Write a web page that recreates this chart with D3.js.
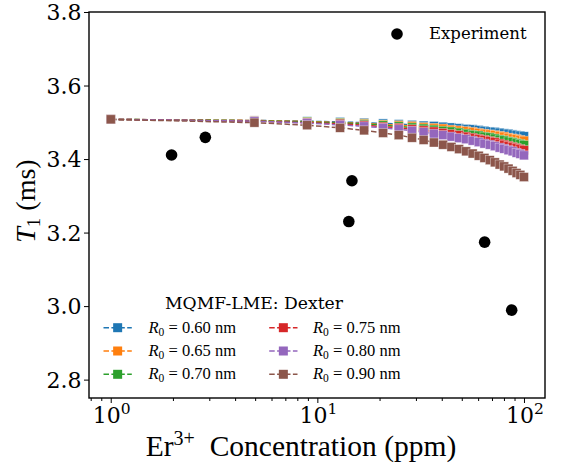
<!DOCTYPE html>
<html>
<head>
<meta charset="utf-8">
<script src="https://cdn.jsdelivr.net/npm/d3@7"></script>
<style>
  body { margin: 0; background: #fff; }
  text { fill: #000; }
</style>
</head>
<body>
<div id="chart"></div>
<script>
// Set dimensions and margins
const width = 561;
const height = 466;
const margin = { top: 12, right: 16, bottom: 68, left: 89 };

// Concentration (ppm) of the model points
const conc = [1, 4.96, 8.92, 12.88, 16.84, 20.8, 24.76, 28.72, 32.68, 36.64, 40.6, 44.56, 48.52,
    52.48, 56.44, 60.4, 64.36, 68.32, 72.28, 76.24, 80.2, 84.16, 88.12, 92.08, 96.04, 100];

// T1 (ms) for each R0
const r060 = [3.508, 3.505, 3.503, 3.501, 3.499, 3.497, 3.495, 3.493, 3.491, 3.490, 3.488, 3.486, 3.484,
    3.482, 3.481, 3.479, 3.477, 3.475, 3.474, 3.472, 3.470, 3.469, 3.467, 3.465, 3.464, 3.462];
const r065 = [3.508, 3.505, 3.502, 3.499, 3.497, 3.494, 3.492, 3.490, 3.487, 3.485, 3.483, 3.480, 3.478,
    3.476, 3.474, 3.471, 3.469, 3.467, 3.465, 3.463, 3.461, 3.458, 3.456, 3.454, 3.452, 3.450];
const r070 = [3.508, 3.504, 3.501, 3.498, 3.495, 3.492, 3.489, 3.486, 3.483, 3.480, 3.477, 3.475, 3.472,
    3.469, 3.466, 3.464, 3.461, 3.459, 3.456, 3.453, 3.451, 3.448, 3.446, 3.443, 3.441, 3.438];
const r075 = [3.508, 3.503, 3.499, 3.496, 3.492, 3.488, 3.485, 3.481, 3.478, 3.475, 3.471, 3.468, 3.465,
    3.461, 3.458, 3.455, 3.452, 3.449, 3.446, 3.442, 3.439, 3.436, 3.433, 3.430, 3.427, 3.424];
const r080 = [3.508, 3.503, 3.498, 3.493, 3.489, 3.485, 3.481, 3.477, 3.473, 3.469, 3.465, 3.461, 3.457,
    3.454, 3.450, 3.446, 3.442, 3.439, 3.435, 3.431, 3.428, 3.424, 3.421, 3.417, 3.414, 3.410];
const r090 = [3.508, 3.499, 3.492, 3.485, 3.478, 3.471, 3.465, 3.458, 3.452, 3.445, 3.439, 3.433, 3.427,
    3.421, 3.415, 3.409, 3.403, 3.397, 3.391, 3.385, 3.380, 3.374, 3.368, 3.362, 3.357, 3.351];

const seriesLabels = ["0.60", "0.65", "0.70", "0.75", "0.80", "0.90"];
const seriesColors = ["#1f77b4", "#ff7f0e", "#2ca02c", "#d62728", "#9467bd", "#8c564b"];
const seriesValues = [r060, r065, r070, r075, r080, r090];

// Experiment points
const expConc = [1.97, 2.87, 14.2, 14.7, 64.5, 87.2];
const expT1 = [3.411, 3.459, 3.230, 3.341, 3.174, 2.989];

const yTicks = [2.8, 3.0, 3.2, 3.4, 3.6, 3.8];
const xTicks = [1, 10, 100];
const xTickExp = ["0", "1", "2"];

// Append SVG
const svg = d3.select("#chart")
    .append("svg")
    .attr("width", width)
    .attr("height", height);

// Scales
const xScale = d3.scaleLog()
    .domain([0.785, 126.4])
    .range([margin.left, width - margin.right]);

const yScale = d3.scaleLinear()
    .domain([2.75, 3.8])
    .range([height - margin.bottom, margin.top]);

const serif = "'DejaVu Serif', serif";
const mathFont = "'Liberation Serif', serif";
const ms = 9; // marker size

// Series: dashed line + square markers
const line = d3.line()
    .x((d) => xScale(d[0]))
    .y((d) => yScale(d[1]));

seriesValues.forEach((vals, i) => {
    const pts = conc.map((c, j) => [c, vals[j]]);
    const g = svg.append("g");
    g.append("path")
        .datum(pts)
        .attr("d", line)
        .attr("fill", "none")
        .attr("stroke", seriesColors[i])
        .attr("stroke-width", 1.5)
        .attr("stroke-dasharray", "5.5,2.4");
    g.selectAll("rect")
        .data(pts)
        .enter()
        .append("rect")
        .attr("x", (d) => xScale(d[0]) - ms / 2)
        .attr("y", (d) => yScale(d[1]) - ms / 2)
        .attr("width", ms)
        .attr("height", ms)
        .attr("fill", seriesColors[i])
        .attr("stroke", "#fff")
        .attr("stroke-opacity", 0.6)
        .attr("stroke-width", 0.6);
});

// Experiment dots
svg.selectAll("circle.exp")
    .data(expConc.map((c, i) => [c, expT1[i]]))
    .enter()
    .append("circle")
    .attr("class", "exp")
    .attr("cx", (d) => xScale(d[0]))
    .attr("cy", (d) => yScale(d[1]))
    .attr("r", 5.8)
    .attr("fill", "#000");

// Axes
const xAxis = d3.axisBottom(xScale)
    .tickValues(xTicks)
    .tickSize(5)
    .tickFormat("");

const xMinor = [];
for (let dec = 0.1; dec <= 100; dec *= 10) {
    for (let m = 2; m <= 9; m++) {
        const v = +(dec * m).toPrecision(3);
        if (v > xScale.domain()[0] && v < xScale.domain()[1]) xMinor.push(v);
    }
}

const xAxisMinor = d3.axisBottom(xScale)
    .tickValues(xMinor)
    .tickSize(3)
    .tickFormat("");

const yAxis = d3.axisLeft(yScale)
    .tickValues(yTicks)
    .tickSize(5)
    .tickFormat("");

const gx = svg.append("g")
    .attr("transform", `translate(0, ${height - margin.bottom})`)
    .call(xAxis);
const gxm = svg.append("g")
    .attr("transform", `translate(0, ${height - margin.bottom})`)
    .call(xAxisMinor);
const gy = svg.append("g")
    .attr("transform", `translate(${margin.left}, 0)`)
    .call(yAxis);

[gx, gxm, gy].forEach((g) => {
    g.select(".domain").remove();
    g.selectAll("line").attr("stroke", "#000").attr("stroke-width", 1);
});

// Frame
svg.append("rect")
    .attr("x", margin.left)
    .attr("y", margin.top)
    .attr("width", width - margin.left - margin.right)
    .attr("height", height - margin.top - margin.bottom)
    .attr("fill", "none")
    .attr("stroke", "#000")
    .attr("stroke-width", 1.4);

// Tick labels
yTicks.forEach((t) => {
    svg.append("text")
        .attr("x", margin.left - 7.5)
        .attr("y", yScale(t) + 8)
        .attr("text-anchor", "end")
        .style("font-family", serif)
        .style("font-size", "22px")
        .text(t.toFixed(1));
});

xTicks.forEach((t, i) => {
    const tx = svg.append("text")
        .attr("x", xScale(t) + 1)
        .attr("y", height - margin.bottom + 25)
        .attr("text-anchor", "middle")
        .style("font-family", serif)
        .style("font-size", "22px");
    tx.append("tspan").text("10");
    tx.append("tspan")
        .attr("dy", -9)
        .style("font-size", "15.5px")
        .text(xTickExp[i]);
});

// Axis labels
const xl = svg.append("text")
    .attr("x", (margin.left + width - margin.right) / 2 - 16)
    .attr("y", 456)
    .attr("text-anchor", "middle")
    .style("font-family", mathFont)
    .style("font-size", "29.5px");
xl.append("tspan").text("Er");
xl.append("tspan").attr("dy", -11).style("font-size", "20px").text("3+");
xl.append("tspan").attr("dy", 11).text("\u00a0 Concentration (ppm)");

const yl = svg.append("text")
    .attr("transform", `translate(35, ${(margin.top + height - margin.bottom) / 2 - 4}) rotate(-90)`)
    .attr("text-anchor", "middle")
    .style("font-family", mathFont)
    .style("font-size", "28px");
yl.append("tspan").style("font-style", "italic").text("T");
yl.append("tspan").attr("dy", 5).style("font-size", "19px").text("1");
yl.append("tspan").attr("dy", -5).text(" (ms)");

// Experiment legend
svg.append("circle")
    .attr("cx", 397)
    .attr("cy", 34)
    .attr("r", 5.8)
    .attr("fill", "#000");
svg.append("text")
    .attr("x", 429)
    .attr("y", 39)
    .style("font-family", serif)
    .style("font-size", "16.5px")
    .text("Experiment");

// Model legend
svg.append("text")
    .attr("x", 254)
    .attr("y", 309)
    .attr("text-anchor", "middle")
    .style("font-family", serif)
    .style("font-size", "17.2px")
    .text("MQMF-LME: Dexter");

const legendCols = [{ hx: 103.5, tx: 148.5 }, { hx: 269.2, tx: 313 }];
const legendRows = [327.7, 351, 374.3];

seriesLabels.forEach((lab, i) => {
    const col = legendCols[Math.floor(i / 3)];
    const ry = legendRows[i % 3];
    svg.append("line")
        .attr("x1", col.hx)
        .attr("x2", col.hx + 28.3)
        .attr("y1", ry)
        .attr("y2", ry)
        .attr("stroke", seriesColors[i])
        .attr("stroke-width", 1.5)
        .attr("stroke-dasharray", "5.5,2.4");
    svg.append("rect")
        .attr("x", col.hx + 14.15 - ms / 2)
        .attr("y", ry - ms / 2)
        .attr("width", ms)
        .attr("height", ms)
        .attr("fill", seriesColors[i]);
    const t = svg.append("text")
        .attr("x", col.tx)
        .attr("y", ry + 5)
        .style("font-family", mathFont)
        .style("font-size", "16.5px");
    t.append("tspan").style("font-style", "italic").text("R");
    t.append("tspan").attr("dy", 3).style("font-size", "11.5px").text("0");
    t.append("tspan").attr("dy", -3).text(` = ${lab} nm`);
});
</script>
</body>
</html>
